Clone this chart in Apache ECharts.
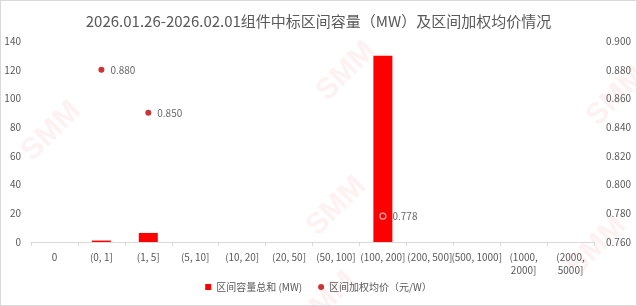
<!DOCTYPE html>
<html><head><meta charset="utf-8">
<script src="https://cdn.jsdelivr.net/npm/echarts@6/dist/echarts.min.js"></script>
<style>html,body{margin:0;padding:0;background:#fff}#c{width:637px;height:306px;box-sizing:border-box;border:1px solid #d9d9d9}</style>
</head><body><div id="c"></div>
<script>
const titleText = '2026.01.26-2026.02.01组件中标区间容量（MW）及区间加权均价情况';
const categories = ['0','(0, 1]','(1, 5]','(5, 10]','(10, 20]','(20, 50]','(50, 100]','(100, 200]','(200, 500]','(500, 1000]','(1000, 2000]','(2000, 5000]'];
const capacityName = '区间容量总和 (MW)';
const priceName = '区间加权均价（元/W）';
const capacity = [0, 1, 6.3, 0, 0, 0, 0, 129.8, 0, 0, 0, 0];
const price = [null, 0.880, 0.850, null, null, null, null, 0.778, null, null, null, null];
const leftTicks = [0, 140, 20];
const rightTicks = [0.76, 0.90, 0.02];

const chart = echarts.init(document.getElementById('c'));
const txt = '#595959';
const font = 'Microsoft YaHei, "Noto Sans CJK SC", sans-serif';
const wm = (x, y) => ({type: 'text', left: x, top: y, rotation: Math.PI / 4, silent: true, z: -1,
  style: {text: 'SMM', fontSize: 30, fontWeight: 'bold', fill: 'rgba(240,120,120,0.10)', fontFamily: 'Arial'}});
chart.setOption({
  animation: false,
  textStyle: {fontFamily: font},
  graphic: [wm(15, 95), wm(300, 170), wm(310, 35), wm(580, 60), wm(560, 210), wm(290, 265)],
  title: {text: titleText, left: 'center', top: 8, textStyle: {fontSize: 15, fontWeight: 'normal', color: txt, fontFamily: font}},
  grid: {left: 30, right: 42, top: 40, bottom: 63},
  legend: {
    bottom: 8, left: 'center', itemWidth: 6, itemHeight: 6, itemGap: 16,
    textStyle: {fontSize: 10, color: txt, fontFamily: font},
    data: [{name: capacityName, icon: 'rect'}, {name: priceName, icon: 'circle'}]
  },
  xAxis: {
    type: 'category', data: categories,
    axisLine: {lineStyle: {color: '#d9d9d9'}},
    axisTick: {show: true, length: 4, lineStyle: {color: '#d9d9d9'}},
    axisLabel: {color: txt, fontSize: 10, interval: 0, margin: 9, lineHeight: 13,
      formatter: v => v.length > 11 ? v.replace(', ', ',\n') : v}
  },
  yAxis: [
    {type: 'value', min: leftTicks[0], max: leftTicks[1], interval: leftTicks[2],
      splitLine: {show: false}, axisLine: {show: false}, axisTick: {show: false},
      axisLabel: {color: txt, fontSize: 10, margin: 10}},
    {type: 'value', min: rightTicks[0], max: rightTicks[1], interval: rightTicks[2],
      splitLine: {show: false}, axisLine: {show: false}, axisTick: {show: false},
      axisLabel: {color: txt, fontSize: 10, margin: 12, formatter: v => v.toFixed(3)}}
  ],
  series: [
    {name: capacityName, type: 'bar', data: capacity, barWidth: 19, yAxisIndex: 0,
      itemStyle: {color: '#ff0000'}},
    {name: priceName, type: 'scatter', yAxisIndex: 1, symbolSize: 6,
      data: price.map((v, i) => capacity[i] > 100 && v != null
        ? {value: v, itemStyle: {color: '#ff0000', borderColor: '#ffd6d6', borderWidth: 1.2}} : v),
      itemStyle: {color: '#c00000'},
      label: {show: true, position: 'right', distance: 6, color: '#404040', fontSize: 10,
        formatter: p => p.value == null ? '' : Number(p.value).toFixed(3)}}
  ]
});
</script></body></html>
